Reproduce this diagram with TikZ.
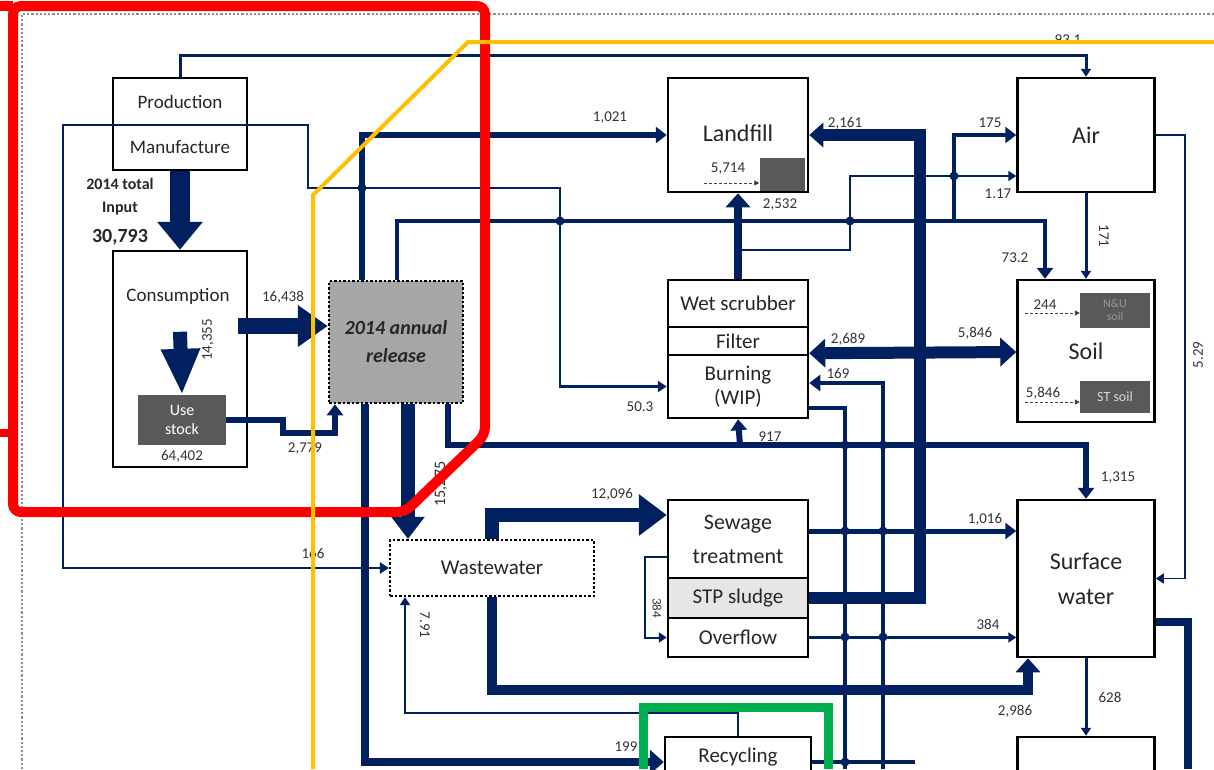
\documentclass[tikz,border=0pt]{standalone}
\usepackage{fontspec}
\setmainfont{Carlito}
\usetikzlibrary{arrows.meta}
\definecolor{navy}{RGB}{0,32,96}
\definecolor{dgray}{RGB}{89,89,89}
\definecolor{rgray}{RGB}{166,166,166}
\definecolor{lgray}{RGB}{231,230,230}
\definecolor{myred}{RGB}{255,0,0}
\definecolor{myyellow}{RGB}{255,192,0}
\definecolor{mygreen}{RGB}{0,176,80}
\begin{document}
\begin{tikzpicture}[x=1pt,y=-1pt,
  box/.style={draw=black, line width=2.5pt, fill=white, inner sep=0pt, align=center,
    font=\fontsize{21}{24}\selectfont, text=black!85},
  bigbox/.style={box, font=\fontsize{24}{28}\selectfont},
  darkbox/.style={fill=dgray, inner sep=0pt, align=center, text=white, font=\fontsize{15}{17}\selectfont},
  fl/.style={draw=navy, line join=miter},
  tS/.style={-{Triangle[length=8pt,width=10pt]}},
  tM/.style={-{Triangle[length=11pt,width=16pt]}},
  tL/.style={-{Triangle[length=14pt,width=24pt]}},
  lbl/.style={font=\fontsize{15}{16}\selectfont, text=black!80, inner sep=0pt},
  blbl/.style={font=\bfseries\fontsize{16}{18}\selectfont, text=black!85, inner sep=0pt},
  hop/.style={fill=navy},
  dsh/.style={draw=black!75, densely dashed, line width=1pt, -{Triangle[length=5pt,width=5pt]}},
]
\clip (0,0) rectangle (1214,769);
\fill[white] (0,0) rectangle (1214,769);

% outer dotted frame
\draw[black!45, dotted, line width=2.2pt] (22,769) -- (22,14) -- (1214,14);

% ---------- boxes ----------
\node[box, minimum width=134pt, minimum height=47pt, font=\fontsize{19}{22}\selectfont] (prod) at (180,101.5) {Production};
\node[box, minimum width=134pt, minimum height=45pt, font=\fontsize{19}{22}\selectfont] (manu) at (180,147.5) {Manufacture};
\node[box, minimum width=134pt, minimum height=216pt] (cons) at (180,359) {};
\node[inner sep=0pt, font=\fontsize{19}{22}\selectfont, text=black!85] (constxt) at (178,296) {Consumption};
\node[darkbox, minimum width=88pt, minimum height=50pt, font=\fontsize{16}{19}\selectfont] (stock) at (182,420) {Use\\stock};
\node[lbl] (stocklbl) at (182,456) {64,402};
\node[box, fill=rgray, dotted, minimum width=134pt, minimum height=122pt,
  font=\bfseries\itshape\fontsize{20}{28}\selectfont] (rel) at (396,342) {2014 annual\\release};

\node[bigbox, minimum width=140pt, minimum height=114pt] (landfill) at (738,135) {\raisebox{4pt}{Landfill}};
\node[darkbox, minimum width=45pt, minimum height=33pt] (lfin) at (782,174) {};
\node[bigbox, minimum width=137pt, minimum height=114pt] (air) at (1086,135) {Air};

\node[box, minimum width=140pt, minimum height=47pt] (wet) at (738,303.5) {Wet scrubber};
\node[box, minimum width=140pt, minimum height=28pt] (filt) at (738,341) {Filter};
\node[box, minimum width=140pt, minimum height=63pt] (burn) at (738,386.5) {Burning\\(WIP)};

\node[bigbox, minimum width=137pt, minimum height=142pt] (soil) at (1086,351) {Soil};
\node[darkbox, minimum width=70pt, minimum height=35pt, text=black!40, font=\fontsize{12}{13}\selectfont] (nu) at (1115,310) {N\&U\\soil};
\node[darkbox, minimum width=70pt, minimum height=32pt, text=black!15, font=\fontsize{14}{16}\selectfont] (st) at (1115,397) {ST soil};

\node[box, minimum width=140pt, minimum height=78pt, font=\fontsize{22}{34}\selectfont] (sew) at (738,539) {Sewage\\treatment};
\node[box, fill=lgray, minimum width=140pt, minimum height=40pt] (sludge) at (738,598) {STP sludge};
\node[box, minimum width=140pt, minimum height=39pt] (over) at (738,637.5) {Overflow};

\node[bigbox, minimum width=137pt, minimum height=157pt, font=\fontsize{24}{35}\selectfont] (sw) at (1086,578.5) {Surface\\water};
\node[box, dotted, line width=2.2pt, minimum width=204pt, minimum height=56pt] (ww) at (492,568) {Wastewater};
\node[box, minimum width=146pt, minimum height=44pt] (rec) at (738,759) {\raisebox{7pt}{Recycling}};
\node[box, minimum width=137pt, minimum height=56pt] (bot) at (1086,765) {};

% dashed inner arrows
\draw[dsh] ([xshift=-55pt,yshift=-9pt]lfin.west) -- ([yshift=-9pt]lfin.west);
\draw[dsh] ([xshift=-55pt,yshift=-3pt]nu.west) -- ([yshift=-3pt]nu.west);
\draw[dsh] ([xshift=-55pt,yshift=-5pt]st.west) -- ([yshift=-5pt]st.west);

% ---------- flows ----------
% 93.1
\draw[fl, tS, line width=3pt] (prod.north) -- ++(0,-21) -| (air.north);
% manufacture line (166 / 50.3)
\draw[fl, line width=2.5pt, {Triangle[length=9pt,width=11pt]}-{Triangle[length=9pt,width=11pt]}]
  (ww.west) -- (63,568) -- (63,125) -- (308,125) -- (308,188) -- (560,188) -- (560,386.5) -- (burn.west);
% 1,021
\draw[fl, tM, line width=6pt] (362,0 |- rel.north) |- (landfill.west);
% 73.2 and 175
\draw[fl, tM, line width=4pt] (397,0 |- rel.north) |- (1045,221) -- (1045,0 |- soil.north);
\draw[fl, tM, line width=4pt] (954,221) |- (air.west);
% 1.17
\draw[fl, tS, line width=2pt] (740,250) -- (850,250) -- (850,176) -- (air.west |- 0,176);
% 2,532
\draw[fl, tL, line width=8pt] (wet.north) -- (landfill.south);
% 2,161 thick
\draw[fl, tL, line width=12pt] (sludge.east) -- (920,598) -- (920,135) -- (landfill.east);
% 2,689 / 5,846
\draw[fl, line width=12pt, {Triangle[length=16pt,width=28pt]}-{Triangle[length=16pt,width=28pt]}] ([yshift=3pt]filt.south east) -- (soil.west |- 0,352);
% burning out
\draw[fl, line width=4pt] (burn.east |- 0,408) -- (845,408) -- (845,769);
% 169
\draw[fl, tM, line width=4pt] (883,769) -- (883,383) -- (burn.east |- 0,383);
% 917 / 1,315
\draw[fl, tM, line width=6pt] (448,0 |- rel.south) |- (1086,445) -- (sw.north);
\draw[fl, tM, line width=6pt] (740,445) -- (burn.south);
% 15,x75
\draw[fl, line width=14pt, -{Triangle[length=22pt,width=32pt]}] (408,0 |- rel.south) -- (408,0 |- ww.north);
% 199
\draw[fl, tL, line width=8pt] (365,0 |- rel.south) |- (rec.west |- 0,762);
% 12,096
\draw[fl, line width=14pt, -{Triangle[length=28pt,width=40pt]}] (492,0 |- ww.north) |- (sew.west |- 0,515);
% 2,986
\draw[fl, tL, line width=10pt] (492,0 |- ww.south) |- (1028,690) -- (1028,0 |- sw.south);
% 7.91
\draw[fl, tS, line width=1.5pt] (rec.north) -- (738,713) -| (405,0 |- ww.south);
% 384 loop
\draw[fl, tS, line width=2pt] (sew.west |- 0,557) -- (645,557) |- (over.west);
% 1,016
\draw[fl, tM, line width=5pt] (sew.east |- 0,531) -- (sw.west |- 0,531);
% 384
\draw[fl, tS, line width=3pt] (over.east) -- (sw.west |- over.east);
% 171
\draw[fl, tS, line width=3pt] (air.south) -- (soil.north);
% 5.29
\draw[fl, tS, line width=1.5pt] (air.east) -- (1185,135) |- (sw.east);
% 628
\draw[fl, tS, line width=3pt] (sw.south) -- (bot.north);
% sw out
\draw[fl, line width=8pt] (sw.east |- 0,622) -- (1188,622) -- (1188,769);
% recycling out
\draw[fl, line width=4pt] (rec.east |- 0,762) -- (915,762);

% big arrows in consumption
\draw[fl, line width=20pt, -{Triangle[length=28pt,width=44pt]}] (manu.south) -- (cons.north);
\draw[fl, line width=14pt, -{Triangle[length=46pt,width=36pt]}] ([yshift=-82pt]cons.north) -- (stock.north);
\draw[fl, line width=16pt, -{Triangle[length=30pt,width=40pt]}] ([xshift=-10pt]cons.east |- 0,326) -- (rel.west |- 0,326);
% 2,779
\draw[fl, tM, line width=6pt] (stock.east) -- (283,420) -- (283,433) -- (335,433) -- (335,0 |- rel.south);

% hops / junctions
\foreach \p in {(362,188),(560,221),(850,221),(920,221),(920,176),(954,176),
  (845,445),(883,445),(920,445),(845,531),(883,531),(920,531),(845,598),(883,598),
  (845,637),(883,637),(845,690),(883,690),(365,568),(845,762)}
  \fill[hop] \p circle (4.5pt);

% ---------- labels ----------
\node[blbl] (t1) at (120,184) {2014 total};
\node[blbl] (t2) at (120,209) {Input};
\node[blbl, font=\bfseries\fontsize{20}{22}\selectfont] (t3) at (120,237) {30,793};
\node[lbl] (l931) at (1068,40) {93.1};
\node[lbl] (l1021) at (610,118) {1,021};
\node[lbl] (l2161) at (845,123) {2,161};
\node[lbl] (l175) at (990,123) {175};
\node[lbl] (l117) at (998,194) {1.17};
\node[lbl] (l5714) at (728,169) {5,714};
\node[lbl] (l2532) at (780,205) {2,532};
\node[lbl] (l732) at (1015,258) {73.2};
\node[lbl, rotate=-90] (l171) at (1104,236) {171};
\node[lbl] (l2689) at (848,339) {2,689};
\node[lbl] (l169) at (838,373) {169};
\node[lbl] (l5846a) at (975,333) {5,846};
\node[lbl] (l244) at (1045,305) {244};
\node[lbl] (l5846b) at (1043,393) {5,846};
\node[lbl] (l503) at (640,407) {50.3};
\node[lbl] (l917) at (770,437) {917};
\node[lbl] (l1315) at (1118,478) {1,315};
\node[lbl, rotate=90] (l529) at (1198,355) {5.29};
\node[lbl] (l16438) at (283,297) {16,438};
\node[lbl, rotate=90] (l14355) at (208,340) {14,355};
\node[lbl] (l2779) at (305,449) {2,779};
\node[lbl, rotate=90, font=\fontsize{16}{17}\selectfont] (l15275) at (441,484) {15,275};
\node[lbl] (l12096) at (612,494) {12,096};
\node[lbl] (l1016) at (985,519) {1,016};
\node[lbl] (l166) at (313,553) {166};
\node[lbl, rotate=-90] (l791) at (425,625) {7.91};
\node[lbl, rotate=-90, font=\fontsize{13}{14}\selectfont] (l384a) at (657,608) {384};
\node[lbl] (l384b) at (988,624) {384};
\node[lbl] (l2986) at (1015,711) {2,986};
\node[lbl] (l628) at (1110,697) {628};
\node[lbl] (l199) at (626,747) {199};

% ---------- highlight overlays ----------
\draw[myred, line width=10pt, rounded corners=8pt] (13,6) -- (485,6) -- (485,435) -- (405,512) -- (13,512) -- cycle;
\draw[myred, line width=10pt] (0,6) -- (13,6);
\draw[myred, line width=8pt] (0,433) -- (13,433);
\draw[myyellow, line width=4pt] (1214,42) -- (468,42) -- (313,195) -- (313,769);
\draw[mygreen, line width=9pt] (643,769) -- (643,707) -- (828,707) -- (828,769);
\end{tikzpicture}
\end{document}
